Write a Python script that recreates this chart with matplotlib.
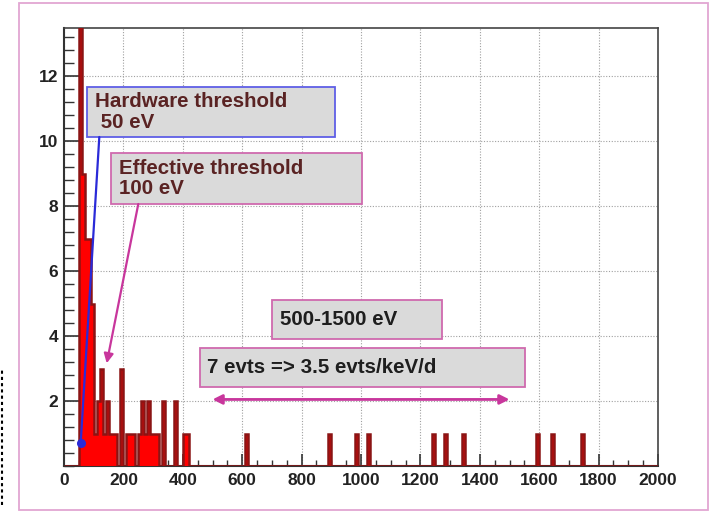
import numpy as np
import matplotlib
matplotlib.use("Agg")
import matplotlib.pyplot as plt
from matplotlib.patches import Rectangle
from matplotlib.lines import Line2D
from matplotlib.ticker import MultipleLocator

plt.rcParams['font.family'] = ['Liberation Sans', 'DejaVu Sans']

# energy spectrum, 10 eV bins (lower bin edge in eV -> counts)
bin_width = 10
e_max = 2000
bin_lo = [50, 60, 70, 80, 90, 100, 110, 120, 130, 140, 150, 160, 170, 190,
          210, 220, 230, 250, 260, 270, 280, 290, 300, 310, 330, 370, 400, 410,
          610, 890, 980, 1020, 1240, 1280, 1340, 1590, 1640, 1740]
counts = [26, 9, 7, 7, 5, 1, 2, 3, 1, 2, 1, 1, 1, 3,
          1, 1, 1, 1, 2, 1, 2, 1, 1, 1, 2, 2, 1, 1,
          1, 1, 1, 1, 1, 1, 1, 1, 1, 1]

roi = [500, 1500]        # region of interest, eV
roi_level = 2.05

hw_label = "Hardware threshold\n 50 eV"
eff_label = "Effective threshold\n100 eV"
roi_label = "500-1500 eV"
rate_label = "7 evts => 3.5 evts/keV/d"

edges = np.arange(0, e_max + bin_width, bin_width)
h = np.zeros(len(edges) - 1)
for lo, c in zip(bin_lo, counts):
    h[lo // bin_width] = c

W, H = 712, 513
fig = plt.figure(figsize=(W / 100, H / 100), dpi=100)
fig.patch.set_facecolor('white')

AX_L, AX_R, AX_T, AX_B = 64, 658, 27.7, 466
ax = fig.add_axes([AX_L / W, 1 - AX_B / H, (AX_R - AX_L) / W, (AX_B - AX_T) / H])


def to_ax(px, py):
    # pixel position on the canvas -> axes fraction
    return (px - AX_L) / (AX_R - AX_L), (AX_B - py) / (AX_B - AX_T)


# histogram: red fill with dark red outline
ax.stairs(h, edges, fill=True, color='#ff0000', zorder=3)
ax.stairs(h, edges, color='#8b1414', lw=1.8, zorder=4)

ax.set_xlim(0, e_max)
ax.set_ylim(0, 13.5)
ax.xaxis.set_major_locator(MultipleLocator(200))
ax.xaxis.set_minor_locator(MultipleLocator(50))
ax.set_yticks([2, 4, 6, 8, 10, 12])
ax.yaxis.set_minor_locator(MultipleLocator(0.4))

ax.grid(True, which='major', color='#a0a0a0', linestyle=(0, (1, 1.5)), lw=0.8, zorder=1)
ax.tick_params(axis='both', which='both', direction='in', colors='#333333',
               labelcolor='#222222', labelsize=12.5, top=False, right=False)
ax.tick_params(axis='y', which='major', length=11, width=1.2, pad=4)
ax.tick_params(axis='y', which='minor', length=7, width=1.0)
ax.tick_params(axis='x', which='major', length=9, width=1.2, pad=5)
ax.tick_params(axis='x', which='minor', length=4.5, width=1.0)
for lab in ax.get_xticklabels() + ax.get_yticklabels():
    lab.set_fontweight('bold')
for side in ['left', 'bottom']:
    ax.spines[side].set_linewidth(1.5)
    ax.spines[side].set_color('#333333')
for side in ['top', 'right']:
    ax.spines[side].set_linewidth(1.2)
    ax.spines[side].set_color('#444444')

# boxes with labels
BOX_FILL = '#dadada'
PINK = '#cf6aae'
BLUE = '#5f5fe6'
MAGENTA = '#c8369c'


def label_box(x0, y0, x1, y1, edge, text, tx, color):
    bx, by = to_ax(x0, y1)
    bx1, by1 = to_ax(x1, y0)
    ax.add_patch(Rectangle((bx, by), bx1 - bx, by1 - by, transform=ax.transAxes,
                           facecolor=BOX_FILL, edgecolor=edge, lw=1.3, zorder=6))
    x, y = to_ax(tx, (y0 + y1) / 2)
    ax.text(x, y, text, transform=ax.transAxes, ha='left', va='center',
            fontsize=14.8, fontweight='bold', color=color, linespacing=1.12, zorder=7)


label_box(87, 87, 335, 137, BLUE, hw_label, 95, '#5a2323')
label_box(111, 153, 362, 204, PINK, eff_label, 119, '#5a2323')
label_box(272, 300, 442, 339, PINK, roi_label, 280, '#1e1e1e')
label_box(200, 348, 525, 387, PINK, rate_label, 207, '#1e1e1e')

# pointer lines from the threshold boxes
ax.annotate('', xy=to_ax(80.7, 442.7), xytext=to_ax(99.3, 137), xycoords='axes fraction',
            arrowprops=dict(arrowstyle='-', color='#2a2ad8', lw=1.6, shrinkA=0, shrinkB=0),
            zorder=8)
ax.plot(*to_ax(80.7, 442.7), 'o', color='#2a2ad8', ms=5.5, transform=ax.transAxes, zorder=8)
ax.annotate('', xy=to_ax(106.7, 363.3), xytext=to_ax(138.3, 204), xycoords='axes fraction',
            arrowprops=dict(arrowstyle='-|>', color=MAGENTA, lw=1.6, mutation_scale=14,
                            shrinkA=0, shrinkB=0), zorder=8)

# double arrow over the region of interest
ax.annotate('', xy=(roi[1], roi_level), xytext=(roi[0], roi_level),
            arrowprops=dict(arrowstyle='<|-|>', color=MAGENTA, lw=2.0, mutation_scale=14,
                            shrinkA=0, shrinkB=0), zorder=8)

# page frame
fig.add_artist(Rectangle((19 / W, 1 - 510 / H), (708 - 19) / W, (510 - 3) / H,
                         transform=fig.transFigure, fill=False, edgecolor='#e2a6d2', lw=1.3))
fig.add_artist(Line2D([2 / W, 2 / W], [8 / H, 1 - 370 / H], transform=fig.transFigure,
                      color='black', lw=1.5, linestyle=(0, (1.5, 1.5))))

fig.savefig('out.png', dpi=100)
